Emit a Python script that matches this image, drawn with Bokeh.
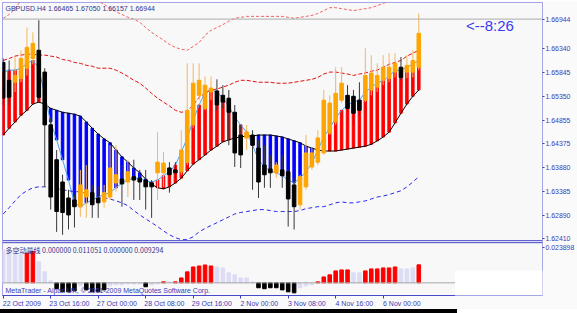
from bokeh.plotting import figure
from bokeh.layouts import column, row
from bokeh.models import (Range1d, LinearAxis, FixedTicker, PrintfTickFormatter, Span,
                          Label, BoxAnnotation, ColumnDataSource, Spacer)
from bokeh.embed import file_html
from bokeh.resources import INLINE

# ---------------- data ----------------
symbol_header = "GBPUSD.H4 1.66465 1.67050 1.66157 1.66944"
last_price = 1.66944
countdown_text = "<--8:26"
indicator_title = "多空动量线 0.000000 0.011051 0.000000 0.009294"
indicator_max_label = "0.023898"
copyright_text = "MetaTrader - Alpari UK, © 2001-2009 MetaQuotes Software Corp."

opens = [1.6605, 1.6568, 1.6564, 1.6572, 1.6593, 1.6613, 1.6630, 1.6585, 1.6476, 1.6404,
         1.6358, 1.6325, 1.6321, 1.6307, 1.6327, 1.6336, 1.6325, 1.6317, 1.6327, 1.6356,
         1.6364, 1.6358, 1.6369, 1.6366, 1.6362, 1.6356, 1.6377, 1.6377, 1.6387, 1.6383,
         1.6379, 1.6399, 1.6476, 1.6537, 1.6510, 1.6544, 1.6546, 1.6537, 1.6531, 1.6502,
         1.6455, 1.6449, 1.6455, 1.6428, 1.6393, 1.6385, 1.6377, 1.6383, 1.6379, 1.6352,
         1.6311, 1.6348, 1.6389, 1.6399, 1.6418, 1.6459, 1.6482, 1.6527, 1.6537, 1.6535,
         1.6527, 1.6527, 1.6548, 1.6554, 1.6568, 1.6572, 1.6585, 1.6595, 1.6585, 1.6585,
         1.6595]
highs = [1.6613, 1.6609, 1.6616, 1.6630, 1.6677, 1.6667, 1.6692, 1.6593, 1.6490, 1.6424,
         1.6373, 1.6342, 1.6332, 1.6383, 1.6393, 1.6352, 1.6348, 1.6352, 1.6434, 1.6434,
         1.6393, 1.6404, 1.6404, 1.6383, 1.6383, 1.6362, 1.6461, 1.6420, 1.6399, 1.6399,
         1.6465, 1.6603, 1.6603, 1.6603, 1.6576, 1.6576, 1.6570, 1.6558, 1.6548, 1.6517,
         1.6476, 1.6476, 1.6465, 1.6445, 1.6434, 1.6414, 1.6399, 1.6414, 1.6383, 1.6366,
         1.6373, 1.6455, 1.6430, 1.6465, 1.6548, 1.6537, 1.6595, 1.6595, 1.6558, 1.6548,
         1.6564, 1.6634, 1.6620, 1.6603, 1.6620, 1.6624, 1.6624, 1.6616, 1.6620, 1.6630,
         1.6706]
lows = [1.6517, 1.6517, 1.6544, 1.6564, 1.6578, 1.6601, 1.6527, 1.6348, 1.6301, 1.6255,
        1.6249, 1.6260, 1.6264, 1.6286, 1.6284, 1.6284, 1.6284, 1.6305, 1.6321, 1.6338,
        1.6307, 1.6327, 1.6321, 1.6321, 1.6301, 1.6284, 1.6321, 1.6348, 1.6336, 1.6362,
        1.6373, 1.6393, 1.6469, 1.6527, 1.6506, 1.6527, 1.6506, 1.6510, 1.6434, 1.6389,
        1.6387, 1.6424, 1.6342, 1.6325, 1.6346, 1.6346, 1.6366, 1.6346, 1.6266, 1.6260,
        1.6301, 1.6342, 1.6383, 1.6393, 1.6414, 1.6455, 1.6476, 1.6521, 1.6502, 1.6476,
        1.6496, 1.6523, 1.6537, 1.6544, 1.6558, 1.6564, 1.6574, 1.6568, 1.6572, 1.6574,
        1.6589]
closes = [1.6531, 1.6533, 1.6578, 1.6613, 1.6636, 1.6644, 1.6533, 1.6476, 1.6327, 1.6297,
          1.6295, 1.6290, 1.6307, 1.6352, 1.6342, 1.6311, 1.6315, 1.6336, 1.6387, 1.6373,
          1.6354, 1.6379, 1.6362, 1.6358, 1.6348, 1.6348, 1.6399, 1.6397, 1.6373, 1.6377,
          1.6424, 1.6506, 1.6562, 1.6568, 1.6558, 1.6552, 1.6517, 1.6523, 1.6502, 1.6418,
          1.6414, 1.6461, 1.6434, 1.6358, 1.6373, 1.6377, 1.6393, 1.6371, 1.6323, 1.6307,
          1.6369, 1.6418, 1.6418, 1.6449, 1.6527, 1.6521, 1.6541, 1.6562, 1.6510, 1.6500,
          1.6506, 1.6578, 1.6583, 1.6578, 1.6595, 1.6595, 1.6603, 1.6574, 1.6599, 1.6609,
          1.6665]

ma_fast = [1.6585, 1.6589, 1.6589, 1.6593, 1.6603, 1.6609, 1.6593, 1.6537, 1.6482, 1.6445,
           1.6404, 1.6362, 1.6315, 1.6307, 1.6315, 1.6321, 1.6327, 1.6332, 1.6336, 1.6346,
           1.6356, 1.6362, 1.6366, 1.6366, 1.6360, 1.6358, 1.6362, 1.6371, 1.6379, 1.6393,
           1.6420, 1.6449, 1.6486, 1.6517, 1.6544, 1.6548, 1.6544, 1.6531, 1.6515, 1.6492,
           1.6476, 1.6461, 1.6434, 1.6404, 1.6389, 1.6381, 1.6377, 1.6371, 1.6362, 1.6356,
           1.6366, 1.6379, 1.6397, 1.6424, 1.6451, 1.6469, 1.6490, 1.6506, 1.6517, 1.6523,
           1.6527, 1.6544, 1.6554, 1.6562, 1.6568, 1.6576, 1.6589, 1.6589, 1.6595, 1.6601,
           1.6609]
ma_slow = [1.6455, 1.6469, 1.6482, 1.6496, 1.6506, 1.6519, 1.6523, 1.6519, 1.6510, 1.6506,
           1.6502, 1.6500, 1.6498, 1.6494, 1.6482, 1.6469, 1.6457, 1.6447, 1.6439, 1.6424,
           1.6410, 1.6399, 1.6387, 1.6377, 1.6364, 1.6354, 1.6346, 1.6344, 1.6348, 1.6356,
           1.6366, 1.6381, 1.6395, 1.6404, 1.6414, 1.6424, 1.6432, 1.6441, 1.6445, 1.6449,
           1.6451, 1.6453, 1.6453, 1.6455, 1.6455, 1.6455, 1.6453, 1.6451, 1.6447, 1.6443,
           1.6439, 1.6432, 1.6428, 1.6424, 1.6422, 1.6422, 1.6422, 1.6424, 1.6426, 1.6428,
           1.6430, 1.6432, 1.6436, 1.6443, 1.6451, 1.6461, 1.6480, 1.6500, 1.6519, 1.6535,
           1.6548]

band_outer = [1.6696, 1.6704, 1.6716, 1.6733, 1.6743, 1.6749, 1.6753, 1.6757, 1.6757, 1.6757,
              1.6755, 1.6753, 1.6751, 1.6747, 1.6743, 1.6737, 1.6731, 1.6725, 1.6716, 1.6710,
              1.6704, 1.6698, 1.6694, 1.6688, 1.6677, 1.6667, 1.6659, 1.6651, 1.6642, 1.6636,
              1.6632, 1.6630, 1.6638, 1.6646, 1.6661, 1.6671, 1.6677, 1.6683, 1.6690, 1.6696,
              1.6698, 1.6700, 1.6700, 1.6700, 1.6700, 1.6700, 1.6700, 1.6700, 1.6698, 1.6696,
              1.6698, 1.6700, 1.6702, 1.6706, 1.6712, 1.6718, 1.6718, 1.6716, 1.6714, 1.6712,
              1.6714, 1.6716, 1.6718, 1.6722, 1.6727, 1.6731, 1.6737, 1.6741, 1.6745, 1.6749,
              1.6753]
band_upper = [1.6609, 1.6613, 1.6618, 1.6620, 1.6622, 1.6622, 1.6620, 1.6620, 1.6618, 1.6616,
              1.6611, 1.6609, 1.6605, 1.6603, 1.6599, 1.6597, 1.6593, 1.6593, 1.6593, 1.6589,
              1.6583, 1.6576, 1.6568, 1.6562, 1.6552, 1.6541, 1.6531, 1.6523, 1.6515, 1.6506,
              1.6502, 1.6504, 1.6517, 1.6533, 1.6541, 1.6548, 1.6550, 1.6554, 1.6558, 1.6564,
              1.6568, 1.6568, 1.6566, 1.6564, 1.6564, 1.6564, 1.6562, 1.6562, 1.6562, 1.6564,
              1.6566, 1.6568, 1.6570, 1.6574, 1.6581, 1.6585, 1.6585, 1.6583, 1.6581, 1.6578,
              1.6581, 1.6583, 1.6587, 1.6589, 1.6595, 1.6601, 1.6605, 1.6609, 1.6618, 1.6624,
              1.6630]
band_lower = [1.6292, 1.6305, 1.6319, 1.6332, 1.6340, 1.6346, 1.6348, 1.6348, 1.6346, 1.6344,
              1.6342, 1.6340, 1.6338, 1.6338, 1.6334, 1.6332, 1.6327, 1.6325, 1.6323, 1.6319,
              1.6315, 1.6309, 1.6299, 1.6290, 1.6282, 1.6274, 1.6266, 1.6257, 1.6249, 1.6243,
              1.6239, 1.6239, 1.6245, 1.6255, 1.6262, 1.6268, 1.6274, 1.6280, 1.6286, 1.6292,
              1.6295, 1.6297, 1.6299, 1.6301, 1.6301, 1.6299, 1.6297, 1.6297, 1.6297, 1.6297,
              1.6299, 1.6303, 1.6305, 1.6307, 1.6307, 1.6311, 1.6315, 1.6317, 1.6315, 1.6315,
              1.6317, 1.6319, 1.6323, 1.6327, 1.6329, 1.6332, 1.6336, 1.6340, 1.6348, 1.6358,
              1.6369]

momentum = [0.0201, 0.0188, 0.0195, 0.0182, 0.0182, 0.0192, 0.0128, 0.0067, 0.0012, -0.0036,
            -0.0055, -0.0055, -0.0049, -0.0018, -0.0043, -0.0055, -0.0055, -0.0043, -0.0018, -0.0012,
            -0.0012, -0.0006, -0.0006, -0.0006, -0.0024, -0.0012, -0.0006, 0.0006, 0.0006, 0.0006,
            0.0030, 0.0067, 0.0097, 0.0103, 0.0109, 0.0103, 0.0097, 0.0091, 0.0061, 0.0049,
            0.0030, 0.0030, 0.0006, -0.0030, -0.0036, -0.0030, -0.0030, -0.0043, -0.0055, -0.0061,
            -0.0030, -0.0018, -0.0012, 0.0006, 0.0036, 0.0049, 0.0073, 0.0079, 0.0079, 0.0061,
            0.0061, 0.0073, 0.0085, 0.0085, 0.0091, 0.0091, 0.0097, 0.0085, 0.0085, 0.0091,
            0.0110]
# R = strengthening up (red), L = fading (lavender), B = strengthening down (black)
momentum_state = list("LLLLRRLLLBBBBLBBBBLLLLLLBLLRLRRRRRRRLLLLLLLBBBBBBBLLLRRRRRRLLRRRRRRLLLR")

price_ticks = [1.62410, 1.62890, 1.63385, 1.63880, 1.64375, 1.64855, 1.65350, 1.65845, 1.66340]
time_tick_bars = [0, 8, 16, 24, 32, 40, 48, 56, 64]
time_tick_labels = ["22 Oct 2009", "23 Oct 16:00", "27 Oct 00:00", "28 Oct 08:00", "29 Oct 16:00",
                    "2 Nov 00:00", "3 Nov 08:00", "4 Nov 16:00", "6 Nov 00:00"]

# ---------------- window geometry helpers ----------------
BAR0_PX, BAR_PX = 2.7, 5.97
PRICE_AT_PX0, PRICE_PER_PX = 1.67328, 0.0002058
SUB_ZERO_PX, SUB_PER_PX = 283.3, 0.000608
LABEL_SHIFT = 3.15


def bx(px):
    return (px - BAR0_PX) / BAR_PX


def py(pyy):
    return PRICE_AT_PX0 - PRICE_PER_PX * pyy


FONT = "Liberation Sans"
AXIS_BLUE = "#3C3CB8"

n = len(opens)
idx = list(range(n))
bull = [c >= o for o, c in zip(opens, closes)]

p = figure(width=577, height=309, output_backend="svg", toolbar_location=None,
           x_range=Range1d(bx(2), bx(545)), y_range=Range1d(py(296), py(2)),
           x_axis_location=None, y_axis_location=None,
           min_border_left=2, min_border_right=32, min_border_top=2, min_border_bottom=13,
           background_fill_color="#F8F8F8", border_fill_color="#FAFAFA",
           outline_line_color="#A6A6E6")
p.grid.visible = False
p.extra_y_ranges = {"sub": Range1d((SUB_ZERO_PX - 296) * SUB_PER_PX, (SUB_ZERO_PX - 2) * SUB_PER_PX)}

# price axis (also carries the current-price tag and the indicator-window maximum)
sub_max_tick = round(py(248), 6)
yax = LinearAxis(ticker=FixedTicker(ticks=price_ticks + [last_price, sub_max_tick]),
                 formatter=PrintfTickFormatter(format="%.5f"),
                 major_label_overrides={sub_max_tick: indicator_max_label},
                 axis_line_color="#A6A6E6", major_tick_line_color=AXIS_BLUE, major_tick_out=2,
                 major_tick_in=0, minor_tick_line_color=None, major_label_standoff=1,
                 major_label_text_font=FONT, major_label_text_font_size="6.9px",
                 major_label_text_color=AXIS_BLUE)
p.add_layout(yax, "right")

centers = [round(t + LABEL_SHIFT, 2) for t in time_tick_bars]
xax = LinearAxis(ticker=FixedTicker(ticks=centers, minor_ticks=time_tick_bars),
                 major_label_overrides={c: l for c, l in zip(centers, time_tick_labels)},
                 major_tick_line_color=None, major_tick_out=0, major_tick_in=0,
                 minor_tick_line_color=AXIS_BLUE, minor_tick_out=3, minor_tick_in=0,
                 axis_line_color="#4848CC", major_label_standoff=1,
                 major_label_text_font=FONT, major_label_text_font_size="7px",
                 major_label_text_color=AXIS_BLUE)
p.add_layout(xax, "below")

# ribbon between the two moving averages
rib = ColumnDataSource(dict(x=idx, top=ma_fast, bottom=ma_slow,
                            color=["#FF0000" if f >= s else "#0000FF" for f, s in zip(ma_fast, ma_slow)]))
p.vbar(x="x", top="top", bottom="bottom", width=0.42, color="color", source=rib)
p.line(idx, ma_slow, line_color="#000000", line_width=1)
p.line(idx, ma_fast, line_color="#4AA3F5", line_width=1)

# envelope bands
p.line(idx, band_outer, line_color="#F06060", line_width=1, line_dash="3 2")
p.line(idx, band_upper, line_color="#E01010", line_width=1, line_dash="4 2")
p.line(idx, band_lower, line_color="#2828F0", line_width=1, line_dash="4 3")

# candles
cs = ColumnDataSource(dict(
    x=idx, o=opens, h=highs, l=lows, c=closes,
    body=["#FFA500" if b else "#000000" for b in bull],
    wick=["#F2B860" if b else "#383838" for b in bull]))
p.segment(x0="x", y0="l", x1="x", y1="h", line_color="wick", line_width=1, source=cs)
p.vbar(x="x", top="o", bottom="c", width=0.6, fill_color="body", line_color="body", source=cs)

# price line
p.add_layout(Span(location=last_price, dimension="width", line_color="#ABABAB", line_width=1))

# separators between main window and indicator window
for sep_px in (241, 243):
    p.add_layout(Span(location=py(sep_px), dimension="width", line_color="#4646C8", line_width=1))

# momentum sub window
state_color = {"R": "#FF0000", "L": "#DCDCF4", "B": "#000000"}
ms = ColumnDataSource(dict(x=idx, top=momentum, color=[state_color[s] for s in momentum_state]))
p.vbar(x="x", top="top", bottom=0, width=0.6, color="color", source=ms, y_range_name="sub")
p.add_layout(Span(location=0, dimension="width", line_color="#A8A8A8", line_width=1, y_range_name="sub"))

# white patch over the lower right corner of the window
p.add_layout(BoxAnnotation(left=bx(457), right=bx(600), top=py(271), bottom=py(330),
                           fill_color="#FFFFFF", fill_alpha=1.0, line_color=None))

# texts
p.add_layout(Label(x=bx(5), y=py(8), text=symbol_header, text_font=FONT, text_font_size="7px",
                   text_color="#34348C", text_baseline="middle"))
p.add_layout(Label(x=bx(468), y=py(25), text=countdown_text, text_font=FONT, text_font_size="15px",
                   text_color="#3A3AEE", text_baseline="middle"))
p.add_layout(Label(x=bx(5), y=py(250), text=indicator_title, text_font="Noto Sans CJK SC",
                   text_font_size="7px", text_color="#34348C", text_baseline="middle"))
p.add_layout(Label(x=bx(5), y=py(291), text=copyright_text, text_font=FONT, text_font_size="7px",
                   text_color="#3C3CB8", text_baseline="middle"))

# bottom edge of the window: black strip, white where the patch covers it
bottom_strip = row(Spacer(width=457, height=4, styles={"background-color": "#000000"}),
                   Spacer(width=120, height=4, styles={"background-color": "#FFFFFF"}))
root = column(p, bottom_strip)

open("out.html", "w").write(file_html(root, INLINE))
